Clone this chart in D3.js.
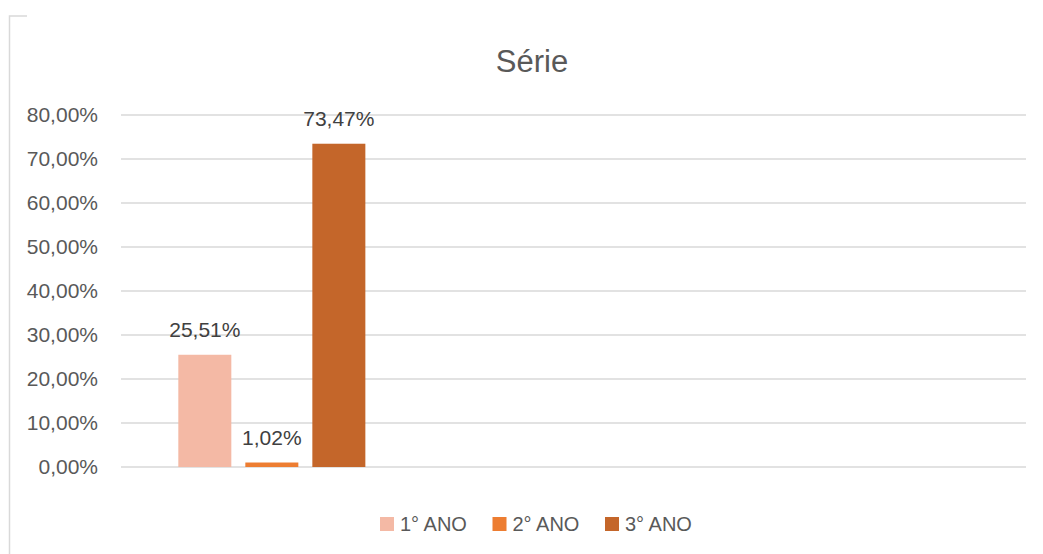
<!DOCTYPE html>
<html>
<head>
<meta charset="utf-8">
<script src="https://cdn.jsdelivr.net/npm/d3@7"></script>
<style>
  body { margin: 0; background: #fff; }
  text { font-family: "Liberation Sans", Arial, sans-serif; }
</style>
</head>
<body>
<div id="chart"></div>
<script>
// chart size
var width = 1043,
    height = 554;

// data (three category slots on the axis, only the first is filled)
var categories = ["c1", "c2", "c3"];
var series = ["1° ANO", "2° ANO", "3° ANO"];
var ano1 = [0.2551, null, null];
var ano2 = [0.0102, null, null];
var ano3 = [0.7347, null, null];
var yTicks = [0, 0.1, 0.2, 0.3, 0.4, 0.5, 0.6, 0.7, 0.8];
var colors = ["#F4B9A5", "#ED7D31", "#C4662A"];

var values = [ano1, ano2, ano3];

// plot area
var plotLeft = 121, plotRight = 1026, plotTop = 115, plotBottom = 467;

var svg = d3.select("#chart").append("svg")
    .attr("width", width).attr("height", height);

// chart frame (only left and top edge visible)
svg.append("path")
    .attr("d", "M9.5,554 V16 H27")
    .attr("fill", "none")
    .attr("stroke", "#D9D9D9")
    .attr("stroke-width", 1.5);

// scales
var x = d3.scaleBand().domain(categories).range([plotLeft, plotRight]);
var y = d3.scaleLinear().domain([0, 0.8]).range([plotBottom, plotTop]);
var bw = x.bandwidth();
var xs = d3.scaleBand().domain(series)
    .range([bw * 0.19, bw * 0.81])
    .paddingInner(0.209);

var pct = function(v) {
    return d3.format(".2f")(v * 100).replace(".", ",") + "%";
};

// gridlines
svg.selectAll("line.grid").data(yTicks).enter().append("line")
    .attr("class", "grid")
    .attr("x1", plotLeft).attr("x2", plotRight)
    .attr("y1", function(d) { return y(d); })
    .attr("y2", function(d) { return y(d); })
    .attr("stroke", "#D9D9D9")
    .attr("stroke-width", 1.5);

// y axis labels
var yAxis = d3.axisLeft(y).tickValues(yTicks).tickSize(0).tickPadding(23).tickFormat(pct);
var ya = svg.append("g").attr("transform", "translate(" + plotLeft + ",0)").call(yAxis);
ya.select(".domain").remove();
ya.selectAll("text")
    .attr("fill", "#595959")
    .style("font-size", "21px")
    .style("font-family", "'Liberation Sans', Arial, sans-serif");

// bars + labels
series.forEach(function(s, si) {
    var pts = categories.map(function(c, ci) { return { c: c, v: values[si][ci] }; })
        .filter(function(d) { return d.v != null; });

    svg.selectAll("rect.s" + si).data(pts).enter().append("rect")
        .attr("class", "s" + si)
        .attr("x", function(d) { return x(d.c) + xs(s); })
        .attr("width", xs.bandwidth())
        .attr("y", function(d) { return y(d.v); })
        .attr("height", function(d) { return y(0) - y(d.v); })
        .attr("fill", colors[si]);

    svg.selectAll("text.l" + si).data(pts).enter().append("text")
        .attr("class", "l" + si)
        .attr("x", function(d) { return x(d.c) + xs(s) + xs.bandwidth() / 2; })
        .attr("y", function(d) { return y(d.v) - 18; })
        .attr("text-anchor", "middle")
        .attr("fill", "#404040")
        .style("font-size", "21px")
        .text(function(d) { return pct(d.v); });
});

// title
svg.append("text")
    .attr("x", 532).attr("y", 72)
    .attr("text-anchor", "middle")
    .attr("fill", "#595959")
    .style("font-size", "31px")
    .text("Série");

// legend
var legend = svg.append("g").attr("transform", "translate(380,517)");
var item = legend.selectAll("g").data(series).enter().append("g")
    .attr("transform", function(d, i) { return "translate(" + (i * 112.5) + ",0)"; });
item.append("rect")
    .attr("width", 14).attr("height", 14)
    .attr("fill", function(d, i) { return colors[i]; });
item.append("text")
    .attr("x", 20).attr("y", 14)
    .attr("fill", "#595959")
    .style("font-size", "20px")
    .text(function(d) { return d; });
</script>
</body>
</html>
